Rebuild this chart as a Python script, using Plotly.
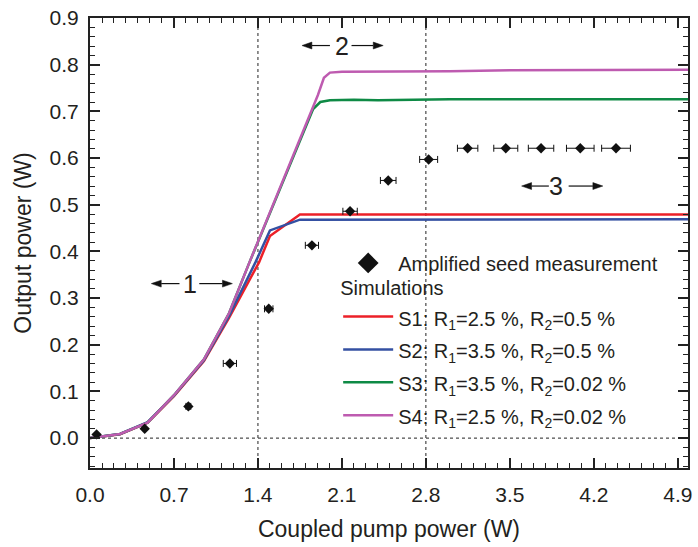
import plotly.graph_objects as go

# ---------------- data ----------------
meas_x = [0.055, 0.456, 0.82, 1.166, 1.49, 1.85, 2.168, 2.486, 2.823, 3.148, 3.466, 3.76, 4.087, 4.385]
meas_y = [0.008, 0.020, 0.068, 0.160, 0.277, 0.413, 0.486, 0.552, 0.597, 0.621, 0.621, 0.621, 0.621, 0.621]
meas_xerr = [0.0, 0.0, 0.02, 0.055, 0.035, 0.055, 0.06, 0.065, 0.075, 0.085, 0.10, 0.106, 0.115, 0.12]

s1_x = [0, 0.25, 0.48, 0.7, 0.95, 1.16, 1.41, 1.5, 1.75, 2.5, 3.5, 5.0]
s1_y = [0, 0.008, 0.033, 0.090, 0.165, 0.258, 0.377, 0.433, 0.479, 0.479, 0.479, 0.479]
s2_x = [0, 0.25, 0.48, 0.7, 0.95, 1.16, 1.38, 1.5, 1.75, 2.0, 2.8, 5.0]
s2_y = [0, 0.009, 0.034, 0.091, 0.167, 0.262, 0.377, 0.445, 0.468, 0.468, 0.469, 0.469]
s3_x = [0, 0.25, 0.48, 0.7, 0.95, 1.16, 1.33, 1.74, 1.86, 1.92, 2.0, 2.2, 2.4, 3.0, 4.0, 5.0]
s3_y = [0, 0.009, 0.033, 0.092, 0.169, 0.268, 0.377, 0.632, 0.705, 0.72, 0.724, 0.725, 0.724, 0.726, 0.726, 0.726]
s4_x = [0, 0.25, 0.48, 0.7, 0.95, 1.16, 1.33, 1.74, 1.9, 1.95, 2.0, 2.1, 2.5, 3.0, 3.5, 4.0, 5.0]
s4_y = [0, 0.009, 0.033, 0.092, 0.169, 0.268, 0.377, 0.632, 0.735, 0.772, 0.783, 0.785, 0.785, 0.786, 0.788, 0.788, 0.789]

sim_names = [
    "S1: R<sub>1</sub>=2.5 %, R<sub>2</sub>=0.5 %",
    "S2: R<sub>1</sub>=3.5 %, R<sub>2</sub>=0.5 %",
    "S3: R<sub>1</sub>=3.5 %, R<sub>2</sub>=0.02 %",
    "S4: R<sub>1</sub>=2.5 %, R<sub>2</sub>=0.02 %",
]
sim_colors = ["#EC2028", "#3450A2", "#0E8A45", "#BE5BB0"]
sim_x = [s1_x, s2_x, s3_x, s4_x]
sim_y = [s1_y, s2_y, s3_y, s4_y]

region_labels = ["1", "2", "3"]
region_label_x = [0.83, 2.104, 3.886]
region_label_y = [0.331, 0.841, 0.540]
# arrows: (head_x, tail_x) pairs for left and right arrows, at label y
region_left_arrow = [(0.511, 0.746), (1.767, 2.0), (3.598, 3.825)]
region_right_arrow = [(1.187, 0.911), (2.444, 2.18), (4.275, 3.99)]

FONT = "Liberation Sans, Arial, sans-serif"
TXT = "#231f20"

X_RANGE = [0, 4.985]
Y_RANGE = [-0.064, 0.9]
PLOT_W = 698 - 90 - 6
PLOT_H = 547 - 14 - 79
PX_X = (X_RANGE[1] - X_RANGE[0]) / PLOT_W   # data units per pixel
PX_Y = (Y_RANGE[1] - Y_RANGE[0]) / PLOT_H

fig = go.Figure()

for name, col, xs, ys in zip(sim_names, sim_colors, sim_x, sim_y):
    fig.add_trace(go.Scatter(
        x=xs, y=ys, mode="lines", name='<span style="font-size:20px">' + name + "</span>",
        line=dict(color=col, width=2.5), legend="legend2",
    ))

fig.add_trace(go.Scatter(
    x=meas_x, y=meas_y, mode="markers", showlegend=False,
    marker=dict(symbol="diamond", size=8, color="#111"),
    error_x=dict(type="data", array=meas_xerr, color="#111", thickness=1, width=3.5),
))
# legend-only entry for measurement
fig.add_trace(go.Scatter(
    x=[None], y=[None], mode="markers", name="Amplified seed measurement",
    marker=dict(symbol="diamond", size=16, color="#111"), legend="legend",
))

shapes = []
for xv in [1.4, 2.8]:
    shapes.append(dict(type="line", xref="x", yref="paper", x0=xv, x1=xv, y0=0, y1=1,
                       line=dict(color="#222", width=1, dash="3px,3px"), layer="below"))
shapes.append(dict(type="line", xref="paper", yref="y", x0=0, x1=1, y0=0, y1=0,
                   line=dict(color="#222", width=1, dash="3px,3px"), layer="below"))

# region arrows: shaft + filled triangular head
HEAD_L = 10 * PX_X
HEAD_HW = 3.5 * PX_Y
annotations = []
for t, lx, ly, la, ra in zip(region_labels, region_label_x, region_label_y,
                             region_left_arrow, region_right_arrow):
    annotations.append(dict(x=lx, y=ly, xref="x", yref="y", text=t, showarrow=False,
                            font=dict(size=25, color=TXT, family=FONT)))
    for head, tail in [la, ra]:
        d = 1 if head > tail else -1
        base = head - d * HEAD_L
        shapes.append(dict(type="line", xref="x", yref="y", x0=tail, x1=base, y0=ly, y1=ly,
                           line=dict(color="#111", width=1.2)))
        path = "M {h},{y} L {b},{y1} L {b},{y2} Z".format(
            h=head, b=base, y=ly, y1=ly + HEAD_HW, y2=ly - HEAD_HW)
        shapes.append(dict(type="path", xref="x", yref="y", path=path,
                           fillcolor="#111", line=dict(color="#111", width=0.5)))

axis_common = dict(
    showline=True, linecolor="#222", linewidth=2, mirror="ticks",
    ticks="inside", ticklen=10, tickwidth=1.5, tickcolor="#222",
    showgrid=False, zeroline=False,
    tickfont=dict(size=21, family=FONT, color=TXT),
)

fig.update_layout(
    width=698, height=547,
    margin=dict(l=90, r=6, t=14, b=79),
    paper_bgcolor="white", plot_bgcolor="white",
    font=dict(family=FONT, color=TXT),
    shapes=shapes, annotations=annotations,
    xaxis=dict(range=X_RANGE, tick0=0, dtick=0.7, tickformat=".1f",
               minor=dict(dtick=0.1, ticks="inside", ticklen=5, tickcolor="#222", tickwidth=1),
               title=dict(text="Coupled pump power (W)", font=dict(size=23, family=FONT, color=TXT), standoff=16),
               ticklabelstandoff=7, **axis_common),
    yaxis=dict(range=Y_RANGE, tick0=0, dtick=0.1, tickformat=".1f",
               minor=dict(dtick=0.02, ticks="inside", ticklen=5, tickcolor="#222", tickwidth=1),
               title=dict(text="Output power (W)", font=dict(size=23, family=FONT, color=TXT), standoff=12),
               ticklabelstandoff=5, **axis_common),
    legend=dict(x=0.415, y=0.499, xanchor="left", yanchor="top", bgcolor="rgba(0,0,0,0)",
                borderwidth=0, itemwidth=50, font=dict(size=20, family=FONT, color=TXT)),
    legend2=dict(x=0.415, y=0.442, xanchor="left", yanchor="top", bgcolor="rgba(0,0,0,0)",
                 borderwidth=0, itemwidth=50, font=dict(size=23, family=FONT, color=TXT),
                 title=dict(text="Simulations", font=dict(size=20, family=FONT, color=TXT)),
                 traceorder="normal"),
)

fig.write_html("out.html")
